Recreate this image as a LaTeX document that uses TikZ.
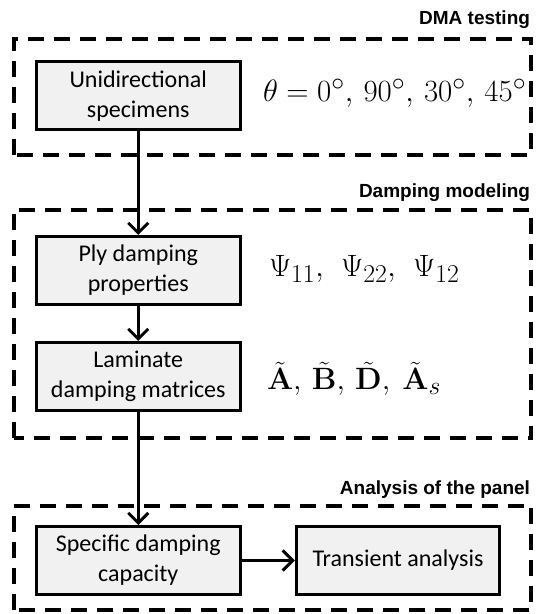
\RequirePackage{fix-cm}
\documentclass[tikz,border=0pt]{standalone}
\usepackage{amsmath}
\usepackage[no-math]{fontspec}
\setmainfont{Carlito}
\newfontfamily\headfont{Liberation Sans}
\usetikzlibrary{arrows.meta}
\tikzset{
  stepbox/.style={draw=black,fill=boxColor,line width=3pt,inner sep=0pt,
    minimum width=203.5pt,minimum height=68pt,align=center,
    font=\fontsize{24}{30}\selectfont},
  stage/.style={draw=black,line width=4pt,dash pattern=on 16pt off 10pt},
  stagetitle/.style={anchor=base east,inner sep=0pt,outer sep=0pt,
    font=\headfont\bfseries\fontsize{19}{22}\selectfont},
  quantity/.style={anchor=base west,inner sep=0pt,outer sep=0pt,
    scale=1.24,font=\fontsize{24.88}{30}\selectfont},
  flow/.style={line width=3pt,-{Straight Barb[length=10pt,width=20pt,line width=3pt]}}
}
\begin{document}
\begin{tikzpicture}[x=1pt,y=1pt]
\definecolor{fillColor}{RGB}{255,255,255}
\definecolor{boxColor}{RGB}{241,241,241}
\path[use as bounding box,fill=fillColor] (0,0) rectangle (538,614);

\draw[stage] (13.5,459.0) rectangle (531.0,575.0);
\draw[stage] (13.5,175.5) rectangle (531.0,404.0);
\draw[stage] (13.5,  4.0) rectangle (531.0,108.0);

\node[stagetitle] (dma) at (530.0,589.0) {DMA testing};
\node[stagetitle] (model) at (530.0,416.0) {Damping modeling};
\node[stagetitle] (panel) at (530.0,119.0) {Analysis of the panel};

\node[stepbox] (spec) at (138.25,518.0) {Unidirectional\\specimens};
\node[stepbox] (ply) at (138.25,343.5) {Ply damping\\properties};
\node[stepbox] (lam) at (138.25,237.5) {Laminate\\damping matrices};
\node[stepbox] (sdc) at (138.25, 53.5) {Specific damping\\capacity};
\node[stepbox] (trans) at (398.0, 53.5) {Transient analysis};

\node[quantity] (angles) at (263.0,512.5) {$\theta=0^\circ,\,90^\circ,\,30^\circ,\,45^\circ$};
\node[quantity] (psi) at (269.0,337.0) {$\Psi_{11},\ \,\Psi_{22},\ \,\Psi_{12}$};
\node[quantity] (mats) at (267.0,224.0) {$\tilde{\mathbf{A}},\,\tilde{\mathbf{B}},\,\tilde{\mathbf{D}},\ \tilde{\mathbf{A}}_s$};

\draw[flow] (spec) -- (ply);
\draw[flow] (ply) -- (lam);
\draw[flow] (lam) -- (sdc);
\draw[flow] (sdc) -- (trans);
\end{tikzpicture}
\end{document}
